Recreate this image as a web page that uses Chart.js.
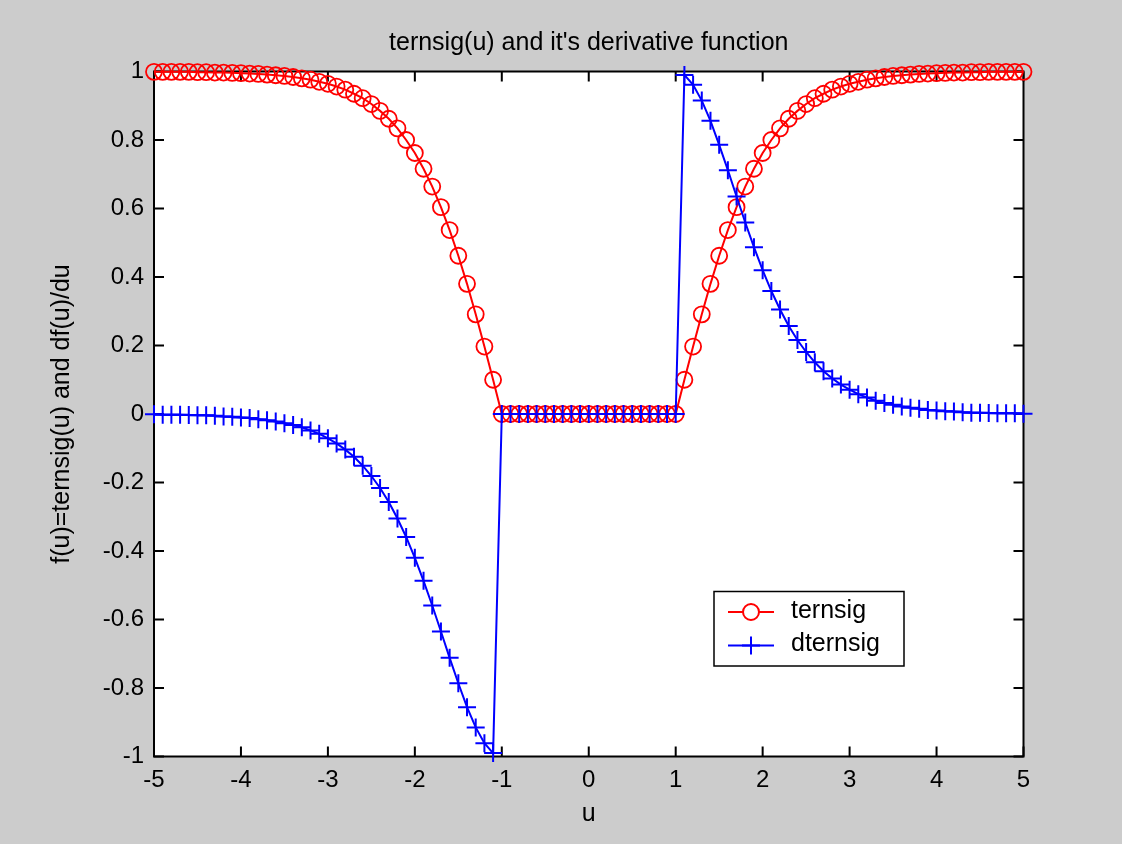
<!DOCTYPE html>
<html>
<head>
<meta charset="utf-8">
<script src="https://cdn.jsdelivr.net/npm/chart.js@4/dist/chart.umd.min.js"></script>
<style>
  html, body { margin: 0; padding: 0; background: #cccccc; }
  #wrap { width: 1122px; height: 844px; }
</style>
</head>
<body>
<div id="wrap"><canvas id="c" width="1122" height="844"></canvas></div>
<script>
// ---- data ----
const u = [
  -5.0,-4.9,-4.8,-4.7,-4.6,-4.5,-4.4,-4.3,-4.2,-4.1,
  -4.0,-3.9,-3.8,-3.7,-3.6,-3.5,-3.4,-3.3,-3.2,-3.1,
  -3.0,-2.9,-2.8,-2.7,-2.6,-2.5,-2.4,-2.3,-2.2,-2.1,
  -2.0,-1.9,-1.8,-1.7,-1.6,-1.5,-1.4,-1.3,-1.2,-1.1,
  -1.0,-0.9,-0.8,-0.7,-0.6,-0.5,-0.4,-0.3,-0.2,-0.1,
   0.0,
   0.1, 0.2, 0.3, 0.4, 0.5, 0.6, 0.7, 0.8, 0.9, 1.0,
   1.1, 1.2, 1.3, 1.4, 1.5, 1.6, 1.7, 1.8, 1.9, 2.0,
   2.1, 2.2, 2.3, 2.4, 2.5, 2.6, 2.7, 2.8, 2.9, 3.0,
   3.1, 3.2, 3.3, 3.4, 3.5, 3.6, 3.7, 3.8, 3.9, 4.0,
   4.1, 4.2, 4.3, 4.4, 4.5, 4.6, 4.7, 4.8, 4.9, 5.0
];
const ternsig = [
  0.999,0.999,0.999,0.999,0.999,0.998,0.998,0.997,0.997,0.996,
  0.995,0.994,0.993,0.991,0.989,0.987,0.984,0.980,0.976,0.970,
  0.964,0.956,0.947,0.935,0.922,0.905,0.885,0.862,0.834,0.800,
  0.762,0.716,0.664,0.604,0.537,0.462,0.380,0.291,0.197,0.100,
  0,0,0,0,0,0,0,0,0,0,
  0,
  0,0,0,0,0,0,0,0,0,0,
  0.100,0.197,0.291,0.380,0.462,0.537,0.604,0.664,0.716,0.762,
  0.800,0.834,0.862,0.885,0.905,0.922,0.935,0.947,0.956,0.964,
  0.970,0.976,0.980,0.984,0.987,0.989,0.991,0.993,0.994,0.995,
  0.996,0.997,0.997,0.998,0.998,0.999,0.999,0.999,0.999,0.999
];
const dternsig = [
  -0.001,-0.002,-0.002,-0.002,-0.003,-0.004,-0.004,-0.005,-0.007,-0.008,
  -0.010,-0.012,-0.015,-0.018,-0.022,-0.027,-0.032,-0.039,-0.048,-0.058,
  -0.071,-0.086,-0.104,-0.125,-0.151,-0.181,-0.216,-0.257,-0.305,-0.359,
  -0.420,-0.487,-0.559,-0.635,-0.712,-0.786,-0.856,-0.915,-0.961,-0.990,
  0,0,0,0,0,0,0,0,0,0,
  0,
  0,0,0,0,0,0,0,0,0,0,
  0.990,0.961,0.915,0.856,0.786,0.712,0.635,0.559,0.487,0.420,
  0.359,0.305,0.257,0.216,0.181,0.151,0.125,0.104,0.086,0.071,
  0.058,0.048,0.039,0.032,0.027,0.022,0.018,0.015,0.012,0.010,
  0.008,0.007,0.005,0.004,0.004,0.003,0.002,0.002,0.002,0.001
];
const seriesNames = ['ternsig', 'dternsig'];
const xTickValues = [-5,-4,-3,-2,-1,0,1,2,3,4,5];
const xTickLabels = ['-5','-4','-3','-2','-1','0','1','2','3','4','5'];
const yTickValues = [-1,-0.8,-0.6,-0.4,-0.2,0,0.2,0.4,0.6,0.8,1];
const yTickLabels = ['-1','-0.8','-0.6','-0.4','-0.2','0','0.2','0.4','0.6','0.8','1'];
const titleText = "ternsig(u) and it's derivative function";
const xTitle = 'u';
const yTitle = 'f(u)=ternsig(u) and df(u)/du';

// ---- chart ----
const FONT = "'Liberation Sans', Arial, sans-serif";
const RED = '#ff0000', BLUE = '#0000ff';

const toPoints = (ys) => u.map((x, i) => ({ x: x, y: ys[i] }));

const bgPlugin = {
  id: 'bg',
  beforeDraw(chart) {
    const { ctx, chartArea: a } = chart;
    ctx.save();
    ctx.fillStyle = '#cccccc';
    ctx.fillRect(0, 0, chart.width, chart.height);
    ctx.fillStyle = '#ffffff';
    ctx.fillRect(a.left, a.top, a.right - a.left, a.bottom - a.top);
    ctx.restore();
  },
  beforeDatasetsDraw(chart) {
    const { ctx, chartArea: a, scales } = chart;
    const L = 10;
    ctx.save();
    ctx.strokeStyle = '#000000';
    ctx.lineWidth = 2;
    ctx.strokeRect(a.left, a.top, a.right - a.left, a.bottom - a.top);
    ctx.beginPath();
    scales.x.ticks.forEach(t => {
      const px = scales.x.getPixelForValue(t.value);
      ctx.moveTo(px, a.bottom); ctx.lineTo(px, a.bottom - L);
      ctx.moveTo(px, a.top); ctx.lineTo(px, a.top + L);
    });
    scales.y.ticks.forEach(t => {
      const py = scales.y.getPixelForValue(t.value);
      ctx.moveTo(a.left, py); ctx.lineTo(a.left + L, py);
      ctx.moveTo(a.right, py); ctx.lineTo(a.right - L, py);
    });
    ctx.stroke();
    ctx.restore();
  }
};

const legendPlugin = {
  id: 'matlabLegend',
  afterDatasetsDraw(chart) {
    const { ctx } = chart;
    const bx = 714, by = 591.5, bw = 190, bh = 74.5;
    ctx.save();
    ctx.fillStyle = '#ffffff';
    ctx.fillRect(bx, by, bw, bh);
    ctx.strokeStyle = '#000000';
    ctx.lineWidth = 1.5;
    ctx.strokeRect(bx, by, bw, bh);
    const rows = [
      { y: 612, ds: chart.data.datasets[0] },
      { y: 645.5, ds: chart.data.datasets[1] }
    ];
    rows.forEach(r => {
      ctx.strokeStyle = r.ds.borderColor;
      ctx.lineWidth = 2;
      ctx.beginPath();
      ctx.moveTo(728, r.y); ctx.lineTo(774, r.y);
      ctx.stroke();
      Chart.helpers.drawPoint(ctx, {
        pointStyle: r.ds.pointStyle,
        radius: r.ds.pointRadius,
        borderWidth: r.ds.pointBorderWidth,
        rotation: 0
      }, 751, r.y);
      ctx.fillStyle = '#000000';
      ctx.font = '25px ' + FONT;
      ctx.textAlign = 'left';
      ctx.textBaseline = 'middle';
      ctx.fillText(r.ds.label, 791, r.y - 1);
    });
    ctx.restore();
  }
};

new Chart(document.getElementById('c'), {
  type: 'line',
  data: {
    datasets: [
      {
        label: seriesNames[0],
        data: toPoints(ternsig),
        borderColor: RED,
        backgroundColor: 'rgba(0,0,0,0)',
        borderWidth: 2,
        pointStyle: 'circle',
        pointRadius: 8,
        pointBorderWidth: 1.8,
        pointBorderColor: RED,
        pointBackgroundColor: 'rgba(0,0,0,0)',
        tension: 0,
        fill: false,
        clip: false,
        order: 2
      },
      {
        label: seriesNames[1],
        data: toPoints(dternsig),
        borderColor: BLUE,
        backgroundColor: 'rgba(0,0,0,0)',
        borderWidth: 2,
        pointStyle: 'cross',
        pointRadius: 9,
        pointBorderWidth: 2,
        pointBorderColor: BLUE,
        pointBackgroundColor: BLUE,
        tension: 0,
        fill: false,
        clip: false,
        order: 1
      }
    ]
  },
  options: {
    responsive: false,
    animation: false,
    devicePixelRatio: 1,
    layout: { padding: { left: 0, right: 98.5, top: 0, bottom: 0 } },
    plugins: {
      legend: { display: false },
      tooltip: { enabled: false },
      title: {
        display: true,
        text: titleText,
        fullSize: false,
        color: '#000000',
        font: { family: FONT, size: 25, weight: 'normal', lineHeight: 1.2 },
        padding: { top: 28, bottom: 13.5 }
      }
    },
    scales: {
      x: {
        type: 'linear',
        min: -5, max: 5,
        grid: { display: false, drawTicks: false, tickLength: 0 },
        border: { display: false },
        afterBuildTicks: (s) => { s.ticks = xTickValues.map(v => ({ value: v })); },
        afterFit: (s) => { s.height = 87.5; },
        ticks: {
          autoSkip: false, maxRotation: 0, padding: 9,
          color: '#000000',
          font: { family: FONT, size: 24, lineHeight: 1.2 },
          callback: (v, i) => xTickLabels[i]
        },
        title: {
          display: true, text: xTitle, color: '#000000',
          font: { family: FONT, size: 25, lineHeight: 1.2 },
          padding: { top: 0, bottom: 15 }
        }
      },
      y: {
        type: 'linear',
        min: -1, max: 1,
        grid: { display: false, drawTicks: false, tickLength: 0 },
        border: { display: false },
        afterBuildTicks: (s) => { s.ticks = yTickValues.map(v => ({ value: v })); },
        afterFit: (s) => { s.width = 154; },
        ticks: {
          autoSkip: false, padding: 10,
          color: '#000000',
          font: { family: FONT, size: 24, lineHeight: 1.2 },
          callback: (v, i) => yTickLabels[i]
        },
        title: {
          display: true, text: yTitle, color: '#000000',
          font: { family: FONT, size: 25, lineHeight: 1.2 },
          padding: { top: 47, bottom: 0 }
        }
      }
    }
  },
  plugins: [bgPlugin, legendPlugin]
});
</script>
</body>
</html>
